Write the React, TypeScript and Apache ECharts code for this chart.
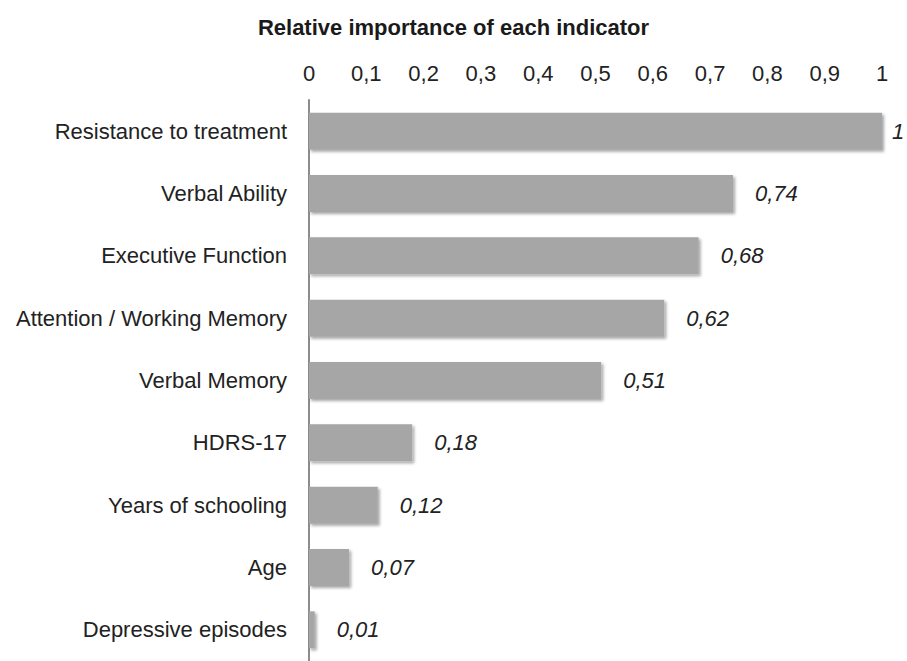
import React, { useEffect, useRef } from "react";
import * as echarts from "echarts";

const categories = [
  "Resistance to treatment",
  "Verbal Ability",
  "Executive Function",
  "Attention / Working Memory",
  "Verbal Memory",
  "HDRS-17",
  "Years of schooling",
  "Age",
  "Depressive episodes",
];
const values = [1, 0.74, 0.68, 0.62, 0.51, 0.18, 0.12, 0.07, 0.01];
const titleText = "Relative importance of each indicator";

const fmt = (v: number) => String(+v.toFixed(2)).replace(".", ",");

export default function App() {
  const ref = useRef<HTMLDivElement>(null);
  useEffect(() => {
    if (!ref.current) return;
    const chart = echarts.init(ref.current, null, { renderer: "svg" });
    const font = "'Liberation Sans', Arial, Helvetica, sans-serif";
    chart.setOption({
      animation: false,
      backgroundColor: "#ffffff",
      title: {
        text: titleText,
        left: "center",
        top: 11,
        textStyle: { fontFamily: font, fontSize: 22, fontWeight: "bold", color: "#1a1a1a" },
      },
      grid: { left: 309, top: 100, width: 573, height: 567, containLabel: false },
      xAxis: {
        type: "value",
        position: "top",
        min: 0,
        max: 1,
        interval: 0.1,
        axisLine: { show: false },
        axisTick: { show: false },
        splitLine: { show: false },
        axisLabel: {
          margin: 16,
          fontFamily: font,
          fontSize: 22,
          color: "#222",
          formatter: (v: number) => fmt(v),
        },
      },
      yAxis: {
        type: "category",
        data: categories,
        inverse: true,
        axisLine: { show: true, lineStyle: { color: "#8c8c8c", width: 2 } },
        axisTick: { show: false },
        axisLabel: { margin: 22, fontFamily: font, fontSize: 22, color: "#222" },
      },
      series: [
        {
          type: "bar",
          data: values.map((v, i) =>
            i === 0 ? { value: v, label: { distance: 10 } } : v
          ),
          barWidth: 37,
          itemStyle: {
            color: "#a6a6a6",
            shadowColor: "rgba(0,0,0,0.35)",
            shadowBlur: 3,
            shadowOffsetX: 2,
            shadowOffsetY: 2,
          },
          label: {
            show: true,
            position: "right",
            distance: 22,
            fontFamily: font,
            fontSize: 22,
            fontStyle: "italic",
            color: "#222",
            formatter: (p: any) => fmt(p.value),
          },
        },
      ],
    });
    return () => chart.dispose();
  }, []);
  return (
    <div
      ref={ref}
      style={{ position: "absolute", left: 0, top: 0, width: 907, height: 661, overflow: "hidden" }}
    />
  );
}
